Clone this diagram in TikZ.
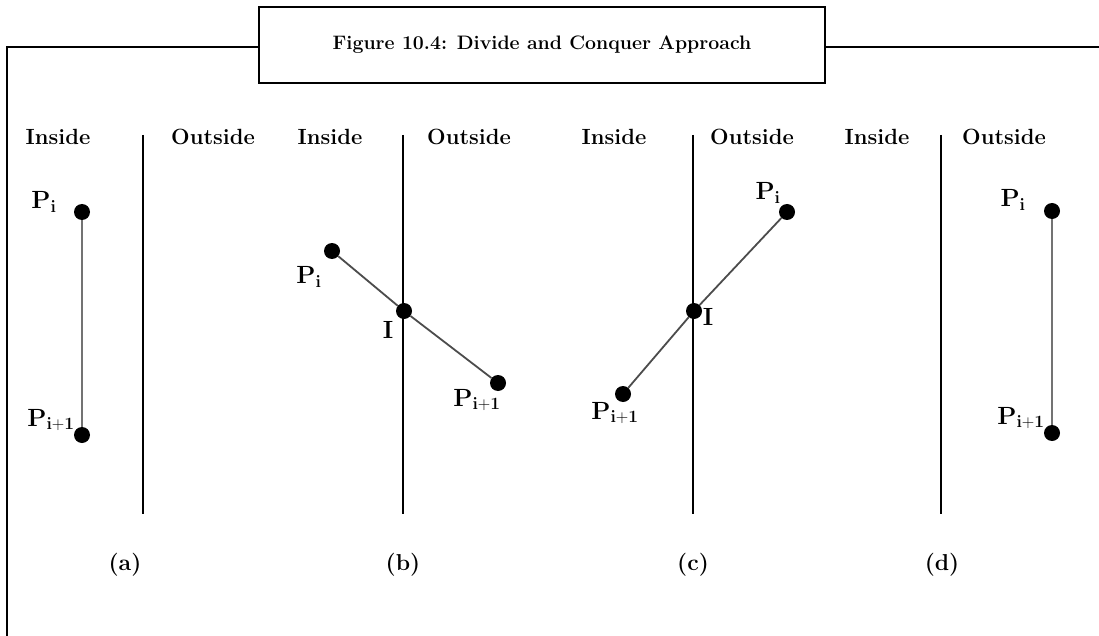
\documentclass[tikz,border=0pt]{standalone}
\usepackage{tikz}
\usetikzlibrary{positioning}

\begin{document}
\begin{tikzpicture}[x=1pt, y=-1pt,
  frame line/.style={draw=black, line width=1.6pt},
  title box/.style={frame line, fill=white, minimum width=566pt, minimum height=76pt,
                    inner sep=0pt, font=\fontsize{19.5}{21}\selectfont\bfseries},
  divider/.style={draw=black, line width=1.1pt},
  side label/.style={font=\fontsize{22}{24}\selectfont\bfseries, inner sep=0pt},
  point/.style={circle, fill=black, minimum size=16pt, inner sep=0pt},
  point label/.style={font=\fontsize{24}{26}\selectfont, inner sep=0pt},
  segment/.style={draw=black!55, line width=1.8pt},
  caption/.style={font=\fontsize{23}{25}\selectfont\bfseries, inner sep=0pt},
]
  \useasboundingbox (0,0) rectangle (1099,636);

  % Title tab sitting on the open frame.
  \node[title box] (title) at (542,45) {Figure 10.4: Divide and Conquer Approach};
  \draw[frame line] (title.west |- 0,47) -- (7,47) -- (7,640);
  \draw[frame line] (title.east |- 0,47) -- (1102,47);

  % Clipping boundary of each case, with its caption.
  \foreach \case/\x/\capx in {a/143/125, b/403/403, c/693/693, d/941/942} {
    \coordinate (\case-top) at (\x,135);
    \coordinate (\case-bot) at (\x,514);
    \draw[divider] (\case-top) -- (\case-bot);
    \node[caption] (cap-\case) at (\capx,565) {(\case)};
  }

  % Inside / Outside headings.
  \node[side label] (a-in)  at (58,137)   {Inside};
  \node[side label] (a-out) at (213,137)  {Outside};
  \node[side label] (b-in)  at (330,137)  {Inside};
  \node[side label] (b-out) at (469,137)  {Outside};
  \node[side label] (c-in)  at (614,137)  {Inside};
  \node[side label] (c-out) at (752,137)  {Outside};
  \node[side label] (d-in)  at (877,137)  {Inside};
  \node[side label] (d-out) at (1004,137) {Outside};

  % (a) both end points inside.
  \node[point] (a-p)  at (82,212) {};
  \node[point] (a-q)  at (82,435) {};
  \draw[segment] (a-p) -- (a-q);
  \node[point label] (a-p-lbl) at (44,202) {$\mathbf{P_{i}}$};
  \node[point label] (a-q-lbl) at (51,420) {$\mathbf{P_{i+1}}$};

  % (b) leaving the inside.
  \node[point] (b-p)  at (332,251) {};
  \node[point] (b-i)  at (404,311) {};
  \node[point] (b-q)  at (498,383) {};
  \draw[segment, draw=black!70] (b-p) -- (b-i) -- (b-q);
  \node[point label] (b-p-lbl) at (309,277) {$\mathbf{P_{i}}$};
  \node[point label] (b-i-lbl) at (388,330) {$\mathbf{I}$};
  \node[point label] (b-q-lbl) at (477,400) {$\mathbf{P_{i+1}}$};

  % (c) entering the inside.
  \node[point] (c-p)  at (787,212) {};
  \node[point] (c-i)  at (694,311) {};
  \node[point] (c-q)  at (623,394) {};
  \draw[segment, draw=black!70] (c-p) -- (c-i) -- (c-q);
  \node[point label] (c-p-lbl) at (768,193) {$\mathbf{P_{i}}$};
  \node[point label] (c-i-lbl) at (708,317) {$\mathbf{I}$};
  \node[point label] (c-q-lbl) at (615,413) {$\mathbf{P_{i+1}}$};

  % (d) both end points outside.
  \node[point] (d-p)  at (1052,211) {};
  \node[point] (d-q)  at (1052,433) {};
  \draw[segment] (d-p) -- (d-q);
  \node[point label] (d-p-lbl) at (1013,200) {$\mathbf{P_{i}}$};
  \node[point label] (d-q-lbl) at (1021,418) {$\mathbf{P_{i+1}}$};
\end{tikzpicture}
\end{document}
